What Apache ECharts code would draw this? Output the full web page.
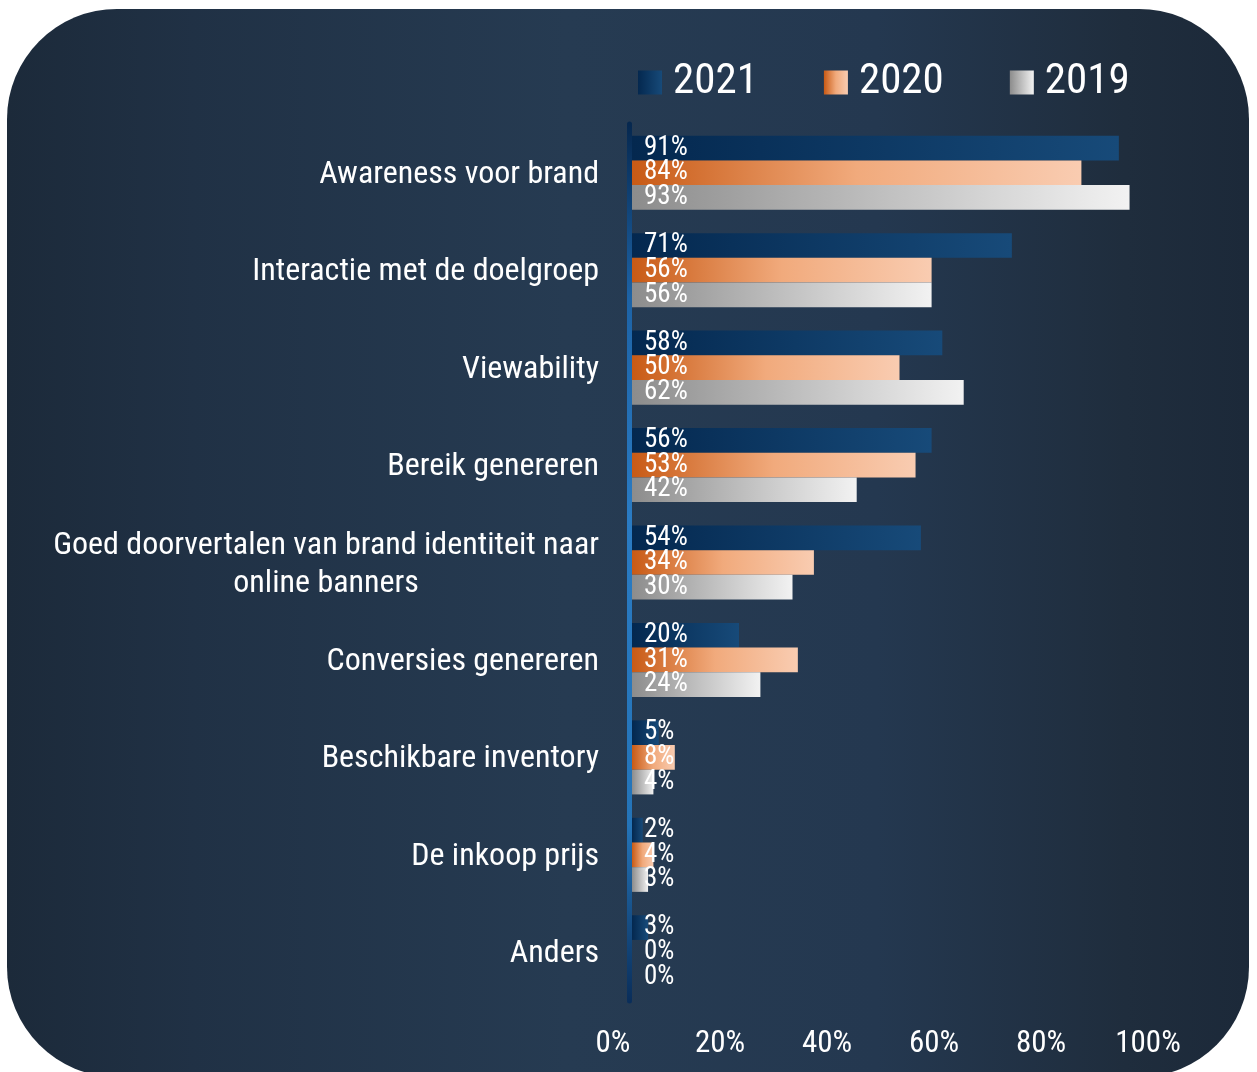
<!DOCTYPE html>
<html>
<head>
<meta charset="utf-8">
<title>Doelen van online banners</title>
<script src="https://cdn.jsdelivr.net/npm/echarts@6/dist/echarts.min.js"></script>
<style>
  html, body { margin: 0; padding: 0; background: #ffffff; }
  #chart { width: 1257px; height: 1072px; }
</style>
</head>
<body>
<div id="chart"></div>
<script>
// Categories, top to bottom
const categories = [
  'Awareness voor brand',
  'Interactie met de doelgroep',
  'Viewability',
  'Bereik genereren',
  'Goed doorvertalen van brand identiteit naar\nonline banners',
  'Conversies genereren',
  'Beschikbare inventory',
  'De inkoop prijs',
  'Anders'
];

// Share of respondents per year (%)
const years = ['2021', '2020', '2019'];
const values2021 = [91, 71, 58, 56, 54, 20, 5, 2, 3];
const values2020 = [84, 56, 50, 53, 34, 31, 8, 4, 0];
const values2019 = [93, 56, 62, 42, 30, 24, 4, 3, 0];

// Value axis ticks
const axisMin = 0;
const axisMax = 100;
const axisStep = 20;

const FONT = "'Roboto Condensed', Roboto, sans-serif";

function hGrad(stops) {
  return new echarts.graphic.LinearGradient(0, 0, 1, 0,
    stops.map(([offset, color]) => ({ offset, color })));
}

const fills = {
  '2021': hGrad([[0, '#04284f'], [1, '#174a79']]),
  '2020': hGrad([[0, '#c85a15'], [0.5, '#f1aa7c'], [1, '#f9ccb1']]),
  '2019': hGrad([[0, '#8c8c8c'], [1, '#f2f2f2']])
};

const seriesValues = { '2021': values2021, '2020': values2020, '2019': values2019 };

const GRID = { left: 632, top: 124, right: 90, bottom: 71 };
const chartHeight = 1072;

const chart = echarts.init(document.getElementById('chart'), null, { renderer: 'canvas' });

// Axis line shading: dark at both ends, bright blue through the middle
const axisLineFill = new echarts.graphic.LinearGradient(0, GRID.top, 0, chartHeight - GRID.bottom, [
  { offset: 0, color: '#06284f' },
  { offset: 0.2, color: '#1d63a6' },
  { offset: 0.45, color: '#2a7bc3' },
  { offset: 0.8, color: '#2474b8' },
  { offset: 1, color: '#0a2e5a' }
], true);

const option = {
  backgroundColor: '#ffffff',
  animation: false,
  textStyle: { fontFamily: FONT },
  graphic: [{
    type: 'rect',
    z: -10,
    silent: true,
    shape: { x: 7, y: 9, width: 1242, height: 1068, r: 110 },
    style: {
      fill: new echarts.graphic.LinearGradient(0, 0, 1, 0, [
        { offset: 0, color: '#1c2a3a' },
        { offset: 0.15, color: '#203145' },
        { offset: 0.45, color: '#263b52' },
        { offset: 0.7, color: '#243850' },
        { offset: 0.9, color: '#1f2d3d' },
        { offset: 1, color: '#1c2939' }
      ])
    }
  }],
  legend: {
    data: years,
    left: 633,
    top: 56,
    icon: 'rect',
    itemWidth: 24,
    itemHeight: 24,
    itemGap: 66,
    textStyle: { color: '#ffffff', fontSize: 43, fontFamily: FONT, padding: [0, 0, 0, 6] }
  },
  grid: {
    left: GRID.left,
    top: GRID.top,
    right: GRID.right,
    bottom: GRID.bottom,
    containLabel: false
  },
  xAxis: {
    type: 'value',
    min: axisMin,
    max: axisMax,
    interval: axisStep,
    axisLine: { show: false },
    axisTick: { show: false },
    splitLine: { show: false },
    axisLabel: {
      color: '#ffffff',
      fontSize: 31,
      fontFamily: FONT,
      margin: 28,
      padding: [0, 38, 0, 0],
      formatter: v => v + '%'
    }
  },
  yAxis: {
    type: 'category',
    inverse: true,
    data: categories,
    offset: 3,
    axisLine: {
      show: true,
      onZero: false,
      lineStyle: { width: 5, color: axisLineFill }
    },
    axisTick: { show: false },
    splitLine: { show: false },
    axisLabel: {
      color: '#ffffff',
      fontSize: 32,
      fontFamily: FONT,
      margin: 30,
      lineHeight: 38,
      padding: [4, 0, 0, 0],
      formatter: function (value) {
        return value.split('\n').map(line => '{c|' + line + '}').join('\n');
      },
      rich: {
        c: { align: 'center', color: '#ffffff', fontSize: 32, fontFamily: FONT, lineHeight: 38 }
      }
    }
  },
  series: years.map(y => ({
    name: y,
    type: 'bar',
    data: seriesValues[y],
    barGap: '0%',
    barCategoryGap: '24%',
    itemStyle: { color: fills[y] },
    label: {
      show: true,
      position: 'insideLeft',
      distance: 12,
      color: '#ffffff',
      fontSize: 27,
      fontFamily: FONT,
      padding: [4, 0, 0, 0],
      formatter: p => p.value + '%'
    }
  }))
};

chart.setOption(option);
</script>
</body>
</html>
